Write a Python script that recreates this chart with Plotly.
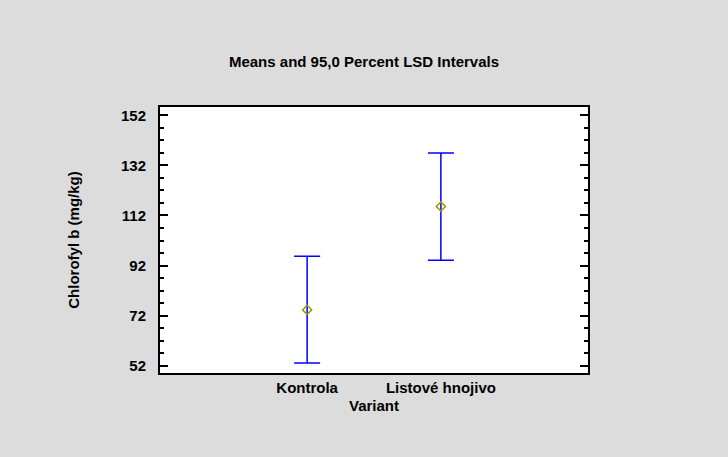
import plotly.graph_objects as go

categories = ["Kontrola", "Listové hnojivo"]
means = [74.3, 115.6]
lower = [53.1, 94.1]
upper = [95.7, 136.9]
y_ticks = [52, 72, 92, 112, 132, 152]

xpos = [1, 2]
FONT = "Liberation Sans, Arial, sans-serif"

fig = go.Figure()
fig.add_trace(go.Scatter(
    x=xpos, y=means, mode="markers",
    marker=dict(symbol="diamond-open", size=7, color="#9a9a00", line=dict(width=1.5)),
    error_y=dict(type="data", symmetric=False,
                 array=[u - m for u, m in zip(upper, means)],
                 arrayminus=[m - l for m, l in zip(means, lower)],
                 color="#0000ff", thickness=1.5, width=13),
    showlegend=False,
))

fig.update_layout(
    width=728, height=457,
    paper_bgcolor="#dcdcdc", plot_bgcolor="white",
    margin=dict(l=160, r=140, t=107, b=84),
    font=dict(family=FONT, size=15, color="black"),
    title=dict(text="<b>Means and 95,0 Percent LSD Intervals</b>", x=0.5, xanchor="center",
               y=1 - 62 / 457, yanchor="middle", font=dict(size=15)),
    xaxis=dict(range=[-0.1, 3.1], tickvals=xpos, ticktext=["<b>%s</b>" % c for c in categories],
               showgrid=False, zeroline=False, showline=True, linecolor="black", linewidth=2,
               mirror=True, ticks="", tickfont=dict(size=15),
               title=dict(text="<b>Variant</b>", standoff=5, font=dict(size=15))),
    yaxis=dict(range=[49.1, 155.3], tickvals=y_ticks, ticktext=["<b>%d</b>" % v for v in y_ticks],
               showgrid=False, zeroline=False, showline=True, linecolor="black", linewidth=2,
               mirror="ticks", ticks="inside", ticklen=8, tickwidth=1.5, tickcolor="black",
               minor=dict(dtick=5, tick0=52, ticks="inside", ticklen=4, tickwidth=1.5, tickcolor="black"),
               ticklabelstandoff=9, tickfont=dict(size=15),
               title=dict(text="<b>Chlorofyl b (mg/kg)</b>", standoff=38, font=dict(size=15))),
)

fig.write_html("out.html")
